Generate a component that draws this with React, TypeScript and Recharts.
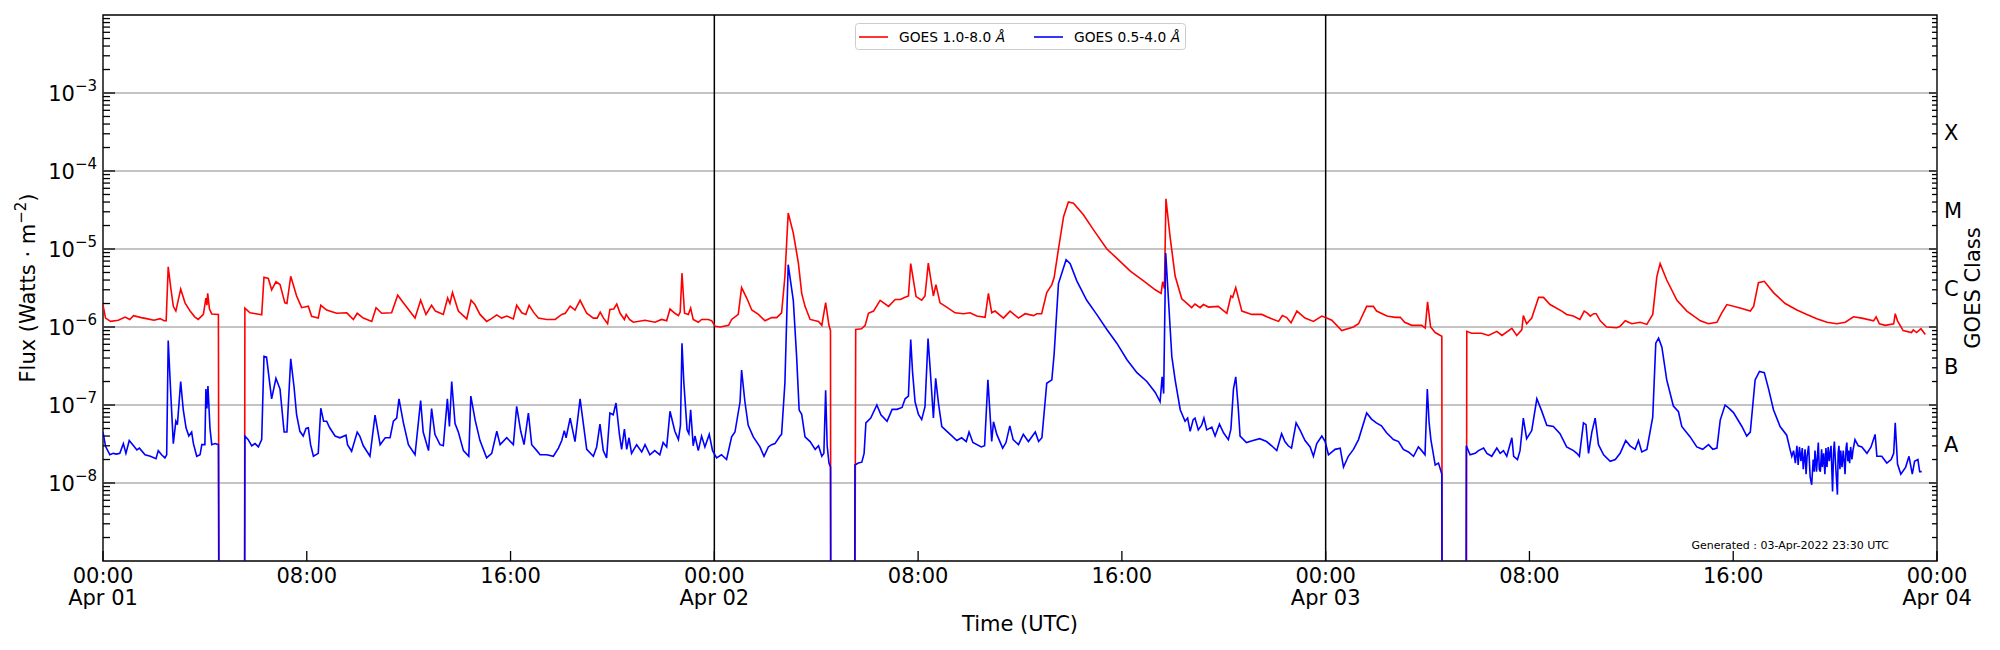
import React from 'react';
import { LineChart, Line, XAxis, YAxis, ReferenceLine, ReferenceArea, Legend } from 'recharts';

// ---------- data (hours since 2022-04-01 00:00 UTC, flux W/m^2) ----------
// 1e-12 marks data gaps (drawn off the bottom of the axis, as in the original)
const longChannel: [number, number][] = [
  [0.0, 1.9e-6], [0.1, 1.3e-6], [0.3, 1.18e-6], [0.6, 1.22e-6], [0.87, 1.34e-6], [1.05, 1.25e-6],
  [1.2, 1.4e-6], [1.5, 1.32e-6], [1.71, 1.28e-6], [2.0, 1.22e-6], [2.24, 1.28e-6], [2.4, 1.2e-6],
  [2.48, 1.2e-6], [2.56, 5.9e-6], [2.66, 3.2e-6], [2.76, 1.84e-6], [2.86, 1.6e-6], [3.05, 3.07e-6],
  [3.22, 2.04e-6], [3.42, 1.6e-6], [3.6, 1.35e-6], [3.74, 1.25e-6], [3.94, 1.45e-6], [4.04, 2.35e-6],
  [4.08, 1.9e-6], [4.11, 2.7e-6], [4.18, 1.7e-6], [4.27, 1.47e-6], [4.53, 1.45e-6], [4.57, 1e-12],
  [5.55, 1e-12], [5.57, 1.75e-6], [5.77, 1.52e-6], [6.0, 1.48e-6], [6.23, 1.43e-6], [6.32, 4.34e-6],
  [6.49, 4.2e-6], [6.62, 3.0e-6], [6.79, 3.8e-6], [6.95, 3.5e-6], [7.14, 2.04e-6], [7.22, 2.0e-6],
  [7.37, 4.46e-6], [7.6, 2.5e-6], [7.8, 1.77e-6], [8.06, 1.85e-6], [8.19, 1.37e-6], [8.45, 1.3e-6],
  [8.55, 1.9e-6], [8.78, 1.65e-6], [9.17, 1.5e-6], [9.57, 1.52e-6], [9.83, 1.25e-6], [9.98, 1.5e-6],
  [10.22, 1.3e-6], [10.55, 1.18e-6], [10.72, 1.77e-6], [10.94, 1.5e-6], [11.33, 1.52e-6], [11.57, 2.55e-6],
  [11.79, 2.04e-6], [12.25, 1.3e-6], [12.47, 2.2e-6], [12.68, 1.45e-6], [12.9, 1.9e-6], [13.05, 1.6e-6],
  [13.36, 1.45e-6], [13.53, 2.35e-6], [13.62, 2.0e-6], [13.72, 2.76e-6], [13.95, 1.6e-6], [14.28, 1.27e-6],
  [14.45, 2.2e-6], [14.6, 1.94e-6], [14.8, 1.45e-6], [15.06, 1.18e-6], [15.25, 1.28e-6], [15.46, 1.43e-6],
  [15.65, 1.3e-6], [15.85, 1.38e-6], [16.11, 1.27e-6], [16.24, 1.9e-6], [16.44, 1.52e-6], [16.6, 1.45e-6],
  [16.73, 1.9e-6], [16.9, 1.55e-6], [17.09, 1.3e-6], [17.42, 1.25e-6], [17.75, 1.25e-6], [18.01, 1.45e-6],
  [18.15, 1.5e-6], [18.34, 1.85e-6], [18.53, 1.65e-6], [18.73, 2.2e-6], [18.99, 1.5e-6], [19.25, 1.3e-6],
  [19.4, 1.3e-6], [19.52, 1.55e-6], [19.65, 1.3e-6], [19.81, 1.1e-6], [19.9, 1.68e-6], [20.05, 1.7e-6],
  [20.17, 1.97e-6], [20.3, 1.5e-6], [20.47, 1.25e-6], [20.54, 1.45e-6], [20.67, 1.25e-6], [20.82, 1.15e-6],
  [21.28, 1.22e-6], [21.67, 1.15e-6], [21.93, 1.25e-6], [22.13, 1.2e-6], [22.26, 1.7e-6], [22.45, 1.5e-6],
  [22.59, 1.4e-6], [22.66, 1.55e-6], [22.73, 4.9e-6], [22.83, 1.5e-6], [22.98, 1.45e-6], [23.07, 1.75e-6],
  [23.17, 1.25e-6], [23.37, 1.15e-6], [23.5, 1.25e-6], [23.77, 1.25e-6], [23.9, 1.2e-6], [24.03, 1.02e-6],
  [24.23, 1.0e-6], [24.56, 1.05e-6], [24.68, 1.25e-6], [24.94, 1.45e-6], [25.07, 3.2e-6], [25.27, 2.35e-6],
  [25.47, 1.65e-6], [25.73, 1.45e-6], [25.99, 1.2e-6], [26.25, 1.32e-6], [26.45, 1.32e-6], [26.64, 1.52e-6],
  [26.77, 4.4e-6], [26.9, 2.9e-5], [27.1, 1.6e-5], [27.3, 6.6e-6], [27.43, 2.7e-6], [27.56, 1.84e-6],
  [27.76, 1.25e-6], [28.09, 1.18e-6], [28.22, 1.05e-6], [28.37, 2.05e-6], [28.5, 1.05e-6], [28.56, 9e-7],
  [28.58, 1e-12], [29.5, 1e-12], [29.55, 0.93e-6], [29.78, 0.95e-6], [29.92, 1.05e-6], [30.05, 1.5e-6],
  [30.25, 1.6e-6], [30.51, 2.2e-6], [30.84, 1.84e-6], [31.1, 2.25e-6], [31.3, 2.25e-6], [31.49, 2.4e-6],
  [31.62, 2.5e-6], [31.71, 6.5e-6], [31.82, 3.9e-6], [31.92, 2.45e-6], [32.14, 2.2e-6], [32.27, 2.5e-6],
  [32.4, 6.6e-6], [32.53, 3.5e-6], [32.6, 2.5e-6], [32.7, 3.5e-6], [32.86, 2.04e-6], [33.12, 1.8e-6],
  [33.45, 1.52e-6], [33.78, 1.48e-6], [34.04, 1.52e-6], [34.3, 1.38e-6], [34.63, 1.33e-6], [34.76, 2.7e-6],
  [34.89, 1.52e-6], [35.02, 1.6e-6], [35.35, 1.3e-6], [35.61, 1.6e-6], [35.94, 1.3e-6], [36.2, 1.48e-6],
  [36.53, 1.4e-6], [36.66, 1.48e-6], [36.85, 1.48e-6], [37.05, 2.76e-6], [37.25, 3.5e-6], [37.34, 4.3e-6],
  [37.51, 1.0e-5], [37.71, 2.6e-5], [37.9, 4.0e-5], [38.1, 3.85e-5], [38.49, 2.75e-5], [38.88, 1.77e-5],
  [39.41, 1.0e-5], [39.94, 6.9e-6], [40.33, 5.2e-6], [40.85, 3.9e-6], [41.31, 3.0e-6], [41.54, 2.7e-6],
  [41.6, 3.8e-6], [41.67, 3.1e-6], [41.73, 4.4e-5], [41.89, 1.45e-5], [42.09, 4.5e-6], [42.35, 2.3e-6],
  [42.61, 1.94e-6], [42.74, 1.77e-6], [42.87, 1.97e-6], [43.07, 1.77e-6], [43.2, 1.94e-6], [43.4, 1.8e-6],
  [43.78, 1.84e-6], [44.12, 1.5e-6], [44.28, 2.5e-6], [44.35, 2.4e-6], [44.47, 3.2e-6], [44.71, 1.6e-6],
  [45.1, 1.45e-6], [45.49, 1.45e-6], [45.69, 1.35e-6], [46.15, 1.18e-6], [46.3, 1.4e-6], [46.47, 1.32e-6],
  [46.64, 1.13e-6], [46.87, 1.6e-6], [47.19, 1.3e-6], [47.52, 1.18e-6], [47.85, 1.38e-6], [48.04, 1.3e-6],
  [48.24, 1.22e-6], [48.63, 0.9e-6], [49.09, 1.0e-6], [49.29, 1.1e-6], [49.61, 1.84e-6], [49.87, 1.84e-6],
  [50.0, 1.6e-6], [50.4, 1.38e-6], [50.73, 1.33e-6], [50.93, 1.33e-6], [51.1, 1.15e-6], [51.38, 1.05e-6],
  [51.77, 1.05e-6], [51.91, 0.97e-6], [52.0, 2.1e-6], [52.12, 1.0e-6], [52.3, 0.85e-6], [52.56, 0.76e-6],
  [52.58, 1e-12], [53.52, 1e-12], [53.54, 0.88e-6], [53.73, 0.83e-6], [54.12, 0.83e-6], [54.39, 0.78e-6],
  [54.72, 0.88e-6], [54.92, 0.78e-6], [55.31, 0.96e-6], [55.5, 0.78e-6], [55.7, 0.92e-6], [55.76, 1.4e-6],
  [55.89, 1.1e-6], [56.09, 1.3e-6], [56.36, 2.4e-6], [56.55, 2.4e-6], [56.81, 1.94e-6], [57.27, 1.6e-6],
  [57.46, 1.45e-6], [57.72, 1.38e-6], [57.98, 1.25e-6], [58.15, 1.6e-6], [58.26, 1.52e-6], [58.39, 1.38e-6],
  [58.52, 1.48e-6], [58.62, 1.48e-6], [58.78, 1.2e-6], [59.03, 1.0e-6], [59.43, 0.98e-6], [59.56, 1.02e-6],
  [59.76, 1.2e-6], [60.02, 1.1e-6], [60.35, 1.15e-6], [60.61, 1.08e-6], [60.84, 1.45e-6], [61.0, 4.4e-6],
  [61.13, 6.5e-6], [61.39, 4.0e-6], [61.79, 2.2e-6], [62.18, 1.6e-6], [62.71, 1.2e-6], [63.03, 1.1e-6],
  [63.36, 1.15e-6], [63.55, 1.52e-6], [63.75, 1.94e-6], [64.27, 1.75e-6], [64.67, 1.6e-6], [64.8, 1.84e-6],
  [64.99, 3.7e-6], [65.22, 3.85e-6], [65.58, 2.76e-6], [66.04, 2.0e-6], [66.5, 1.65e-6], [66.89, 1.45e-6],
  [67.28, 1.28e-6], [67.68, 1.15e-6], [68.07, 1.1e-6], [68.4, 1.15e-6], [68.72, 1.35e-6], [69.05, 1.3e-6],
  [69.51, 1.2e-6], [69.61, 1.35e-6], [69.74, 1.1e-6], [69.97, 1.05e-6], [70.3, 1.1e-6], [70.36, 1.48e-6],
  [70.45, 1.2e-6], [70.67, 0.9e-6], [71.0, 0.85e-6], [71.07, 0.92e-6], [71.2, 0.85e-6], [71.37, 0.95e-6],
  [71.54, 0.8e-6],
];

const shortChannel: [number, number][] = [
  [0.0, 4.5e-8], [0.1, 2.95e-8], [0.27, 2.3e-8], [0.4, 2.4e-8], [0.53, 2.35e-8], [0.66, 2.4e-8],
  [0.8, 3.2e-8], [0.9, 2.4e-8], [1.03, 3.5e-8], [1.2, 3.0e-8], [1.33, 2.65e-8], [1.43, 2.8e-8],
  [1.65, 2.3e-8], [1.86, 2.2e-8], [2.08, 2.05e-8], [2.17, 2.6e-8], [2.3, 2.3e-8], [2.43, 2.1e-8],
  [2.5, 2.3e-8], [2.56, 6.7e-7], [2.66, 1.4e-7], [2.76, 3.2e-8], [2.86, 6.2e-8], [2.92, 5.6e-8],
  [3.05, 2.0e-7], [3.15, 8.7e-8], [3.26, 5.1e-8], [3.37, 4.0e-8], [3.48, 4.5e-8], [3.55, 3.2e-8],
  [3.68, 2.2e-8], [3.81, 2.3e-8], [3.88, 3.1e-8], [4.0, 3.1e-8], [4.04, 1.6e-7], [4.08, 9e-8],
  [4.12, 1.75e-7], [4.2, 5e-8], [4.27, 3.1e-8], [4.4, 3.2e-8], [4.53, 3.1e-8], [4.57, 1e-12],
  [5.55, 1e-12], [5.57, 4.0e-8], [5.7, 3.6e-8], [5.84, 3.0e-8], [5.97, 3.2e-8], [6.1, 2.9e-8],
  [6.23, 3.6e-8], [6.32, 4.2e-7], [6.42, 4.1e-7], [6.62, 1.2e-7], [6.79, 2.2e-7], [6.95, 1.6e-7],
  [7.11, 4.5e-8], [7.22, 4.5e-8], [7.37, 3.9e-7], [7.5, 1.7e-7], [7.6, 7.5e-8], [7.73, 4.6e-8],
  [7.86, 4.0e-8], [7.97, 5e-8], [8.06, 5.1e-8], [8.15, 3.1e-8], [8.26, 2.2e-8], [8.45, 2.4e-8],
  [8.55, 9.1e-8], [8.66, 6.2e-8], [8.78, 6.2e-8], [8.9, 5.1e-8], [9.11, 4.0e-8], [9.3, 3.8e-8],
  [9.54, 4.1e-8], [9.6, 3.1e-8], [9.76, 2.55e-8], [9.98, 4.5e-8], [10.08, 4.0e-8], [10.22, 3.0e-8],
  [10.48, 2.2e-8], [10.68, 7.4e-8], [10.88, 3.1e-8], [11.08, 3.8e-8], [11.27, 3.8e-8], [11.4, 6.2e-8],
  [11.53, 6.8e-8], [11.62, 1.2e-7], [11.79, 6.0e-8], [11.99, 3.1e-8], [12.25, 2.3e-8], [12.47, 1.14e-7],
  [12.57, 4.5e-8], [12.78, 2.6e-8], [12.9, 9e-8], [13.03, 4.2e-8], [13.23, 3.1e-8], [13.36, 3.0e-8],
  [13.52, 1.2e-7], [13.6, 5.3e-8], [13.69, 2.0e-7], [13.82, 5.8e-8], [13.95, 4.5e-8], [14.15, 2.6e-8],
  [14.36, 2.2e-8], [14.44, 1.3e-7], [14.61, 6.4e-8], [14.8, 3.5e-8], [15.06, 2.1e-8], [15.26, 2.4e-8],
  [15.46, 4.6e-8], [15.59, 3.1e-8], [15.85, 3.8e-8], [16.11, 3.1e-8], [16.24, 9.6e-8], [16.4, 4.6e-8],
  [16.53, 3.1e-8], [16.7, 7.9e-8], [16.83, 3.1e-8], [17.03, 2.6e-8], [17.16, 2.3e-8], [17.42, 2.3e-8],
  [17.68, 2.2e-8], [17.88, 2.8e-8], [18.01, 3.5e-8], [18.11, 4.7e-8], [18.18, 3.8e-8], [18.34, 6.8e-8],
  [18.53, 3.4e-8], [18.73, 1.2e-7], [18.99, 2.7e-8], [19.25, 2.2e-8], [19.38, 2.9e-8], [19.51, 5.7e-8],
  [19.64, 2.6e-8], [19.77, 2.1e-8], [19.9, 7.9e-8], [20.03, 7.5e-8], [20.14, 1.06e-7], [20.27, 4.3e-8],
  [20.36, 2.7e-8], [20.47, 4.9e-8], [20.56, 2.7e-8], [20.65, 3.8e-8], [20.75, 2.4e-8], [20.95, 3.1e-8],
  [21.15, 2.5e-8], [21.28, 3.1e-8], [21.47, 2.3e-8], [21.66, 2.6e-8], [21.86, 2.3e-8], [21.99, 3.3e-8],
  [22.13, 2.9e-8], [22.26, 8.3e-8], [22.45, 4.6e-8], [22.59, 3.6e-8], [22.67, 5.5e-8], [22.73, 6.2e-7],
  [22.8, 2.0e-7], [22.93, 4.8e-8], [23.0, 4.3e-8], [23.07, 8.7e-8], [23.17, 3.0e-8], [23.24, 4.0e-8],
  [23.37, 2.6e-8], [23.5, 4.0e-8], [23.63, 2.9e-8], [23.8, 4.2e-8], [23.93, 2.6e-8], [24.09, 2.1e-8],
  [24.28, 2.3e-8], [24.48, 2.0e-8], [24.68, 3.9e-8], [24.81, 4.5e-8], [25.01, 1.1e-7], [25.07, 2.8e-7],
  [25.2, 1.1e-7], [25.33, 5.5e-8], [25.53, 3.9e-8], [25.79, 2.9e-8], [25.95, 2.2e-8], [26.12, 2.9e-8],
  [26.25, 3.1e-8], [26.38, 3.2e-8], [26.58, 4.0e-8], [26.64, 4.2e-8], [26.77, 1.9e-7], [26.9, 6.3e-6],
  [27.1, 2.2e-6], [27.23, 4.2e-7], [27.33, 8.6e-8], [27.43, 7.6e-8], [27.56, 3.9e-8], [27.76, 3.4e-8],
  [27.96, 2.7e-8], [28.09, 3.0e-8], [28.22, 2.2e-8], [28.3, 2.4e-8], [28.37, 1.55e-7], [28.43, 3.0e-8],
  [28.5, 1.8e-8], [28.56, 1.6e-8], [28.58, 1e-12], [29.5, 1e-12], [29.52, 1.7e-8], [29.65, 1.8e-8],
  [29.79, 1.85e-8], [29.88, 2.4e-8], [29.95, 5.9e-8], [30.14, 6.8e-8], [30.38, 1.0e-7], [30.54, 7.5e-8],
  [30.78, 6.2e-8], [30.98, 8.8e-8], [31.17, 8.8e-8], [31.37, 9.3e-8], [31.49, 1.2e-7], [31.62, 1.3e-7],
  [31.71, 6.9e-7], [31.78, 2.7e-7], [31.88, 1.1e-7], [32.01, 7.6e-8], [32.14, 6.5e-8], [32.27, 9.5e-8],
  [32.39, 7.1e-7], [32.47, 3e-7], [32.6, 6.8e-8], [32.69, 2.2e-7], [32.8, 1.05e-7], [32.93, 5.3e-8],
  [33.26, 4.2e-8], [33.52, 3.5e-8], [33.71, 3.8e-8], [33.89, 3.4e-8], [34.0, 4.5e-8], [34.15, 3.3e-8],
  [34.48, 2.9e-8], [34.61, 3.0e-8], [34.74, 2.1e-7], [34.81, 9e-8], [34.89, 3.4e-8], [34.96, 6.1e-8],
  [35.09, 4.2e-8], [35.32, 2.8e-8], [35.45, 3.3e-8], [35.6, 5.4e-8], [35.73, 3.6e-8], [35.94, 3.1e-8],
  [36.13, 4.2e-8], [36.33, 3.4e-8], [36.6, 4.5e-8], [36.73, 3.4e-8], [36.86, 3.8e-8], [37.05, 1.9e-7],
  [37.25, 2.1e-7], [37.34, 4.5e-7], [37.51, 3.6e-6], [37.81, 7.3e-6], [37.97, 6.5e-6], [38.23, 3.9e-6],
  [38.62, 2.2e-6], [39.01, 1.45e-6], [39.41, 9.3e-7], [39.8, 6.2e-7], [40.2, 3.8e-7], [40.59, 2.6e-7],
  [40.98, 2.0e-7], [41.31, 1.45e-7], [41.5, 1.1e-7], [41.58, 2.3e-7], [41.64, 1.4e-7], [41.72, 8.9e-6],
  [41.83, 2.2e-6], [41.96, 4.2e-7], [42.09, 2.1e-7], [42.29, 8.7e-8], [42.48, 6.2e-8], [42.58, 6.8e-8],
  [42.68, 4.6e-8], [42.8, 6.5e-8], [42.87, 6.8e-8], [43.0, 4.8e-8], [43.13, 5.5e-8], [43.22, 6.8e-8],
  [43.33, 4.8e-8], [43.53, 5.2e-8], [43.66, 4.0e-8], [43.83, 5.7e-8], [43.99, 4.4e-8], [44.18, 3.6e-8],
  [44.28, 4.9e-8], [44.38, 1.6e-7], [44.47, 2.3e-7], [44.56, 1.0e-7], [44.64, 4.0e-8], [44.89, 3.3e-8],
  [45.15, 3.5e-8], [45.41, 3.7e-8], [45.68, 3.4e-8], [45.88, 3.0e-8], [46.08, 2.6e-8], [46.27, 4.3e-8],
  [46.4, 3.4e-8], [46.53, 3.0e-8], [46.66, 2.8e-8], [46.84, 5.9e-8], [46.99, 4.8e-8], [47.19, 3.5e-8],
  [47.39, 2.9e-8], [47.52, 2.2e-8], [47.65, 3.2e-8], [47.85, 4.0e-8], [47.98, 3.4e-8], [48.11, 2.3e-8],
  [48.37, 2.7e-8], [48.57, 2.8e-8], [48.7, 1.6e-8], [48.89, 2.2e-8], [49.09, 2.7e-8], [49.29, 3.6e-8],
  [49.61, 7.9e-8], [49.8, 6.6e-8], [49.99, 5.9e-8], [50.19, 5.4e-8], [50.39, 4.4e-8], [50.66, 3.6e-8],
  [50.86, 3.4e-8], [51.05, 2.7e-8], [51.25, 2.5e-8], [51.45, 2.2e-8], [51.64, 2.9e-8], [51.77, 2.6e-8],
  [51.9, 2.3e-8], [51.99, 1.6e-7], [52.06, 6e-8], [52.13, 3.6e-8], [52.3, 1.7e-8], [52.43, 1.8e-8],
  [52.56, 1.3e-8], [52.58, 1e-12], [53.5, 1e-12], [53.52, 3.0e-8], [53.67, 2.3e-8], [53.87, 2.4e-8],
  [54.0, 2.6e-8], [54.2, 2.8e-8], [54.33, 2.4e-8], [54.52, 2.2e-8], [54.72, 2.8e-8], [54.85, 2.4e-8],
  [54.98, 2.6e-8], [55.11, 2.2e-8], [55.31, 3.8e-8], [55.38, 2.2e-8], [55.53, 2.0e-8], [55.63, 2.6e-8],
  [55.76, 6.8e-8], [55.89, 3.7e-8], [56.09, 4.7e-8], [56.29, 1.2e-7], [56.48, 8.4e-8], [56.68, 5.5e-8],
  [56.94, 5.3e-8], [57.2, 4.3e-8], [57.46, 2.9e-8], [57.73, 2.6e-8], [57.86, 2.4e-8], [57.96, 2.2e-8],
  [58.12, 5.9e-8], [58.22, 5.6e-8], [58.32, 2.4e-8], [58.45, 4.5e-8], [58.58, 6.8e-8], [58.71, 3.1e-8],
  [58.91, 2.3e-8], [59.17, 1.9e-8], [59.37, 2.0e-8], [59.56, 2.4e-8], [59.78, 3.5e-8], [59.95, 3.0e-8],
  [60.15, 2.7e-8], [60.28, 3.5e-8], [60.41, 2.5e-8], [60.61, 2.7e-8], [60.84, 7e-8], [60.96, 6.2e-7],
  [61.07, 7.2e-7], [61.2, 5.5e-7], [61.39, 2.1e-7], [61.65, 9.7e-8], [61.85, 8.2e-8], [61.98, 5.3e-8],
  [62.31, 3.9e-8], [62.57, 2.9e-8], [62.8, 2.7e-8], [63.03, 3.1e-8], [63.2, 2.7e-8], [63.36, 2.8e-8],
  [63.49, 6.4e-8], [63.68, 1.0e-7], [63.85, 9e-8], [64.01, 8e-8], [64.34, 5.3e-8], [64.53, 4.0e-8],
  [64.67, 4.5e-8], [64.86, 2.1e-7], [65.03, 2.7e-7], [65.22, 2.6e-7], [65.39, 1.6e-7], [65.58, 8.7e-8],
  [65.84, 5.3e-8], [66.1, 4.1e-8], [66.23, 2.7e-8], [66.3, 2.2e-8], [66.37, 2.6e-8], [66.44, 1.8e-8],
  [66.5, 3.0e-8], [66.55, 1.7e-8], [66.6, 2.9e-8], [66.66, 1.9e-8], [66.71, 2.8e-8], [66.75, 1.5e-8],
  [66.82, 2.7e-8], [66.86, 1.3e-8], [66.9, 2.2e-8], [66.96, 3.0e-8], [67.02, 1.2e-8], [67.08, 9.5e-9],
  [67.14, 2.0e-8], [67.18, 1.4e-8], [67.21, 2.6e-8], [67.27, 1.4e-8], [67.34, 3.3e-8], [67.38, 1.5e-8],
  [67.42, 1.4e-8], [67.47, 2.7e-8], [67.5, 1.6e-8], [67.55, 2.4e-8], [67.6, 1.3e-8], [67.64, 2.8e-8],
  [67.68, 1.6e-8], [67.73, 2.9e-8], [67.77, 1.9e-8], [67.84, 3.0e-8], [67.9, 7.8e-9], [67.94, 2.5e-8],
  [67.97, 3.4e-8], [68.03, 1.5e-8], [68.09, 7.1e-9], [68.12, 2.4e-8], [68.15, 3.0e-8], [68.19, 1.5e-8],
  [68.22, 2.6e-8], [68.27, 1.6e-8], [68.32, 2.6e-8], [68.36, 1.8e-8], [68.39, 1.3e-8], [68.43, 2.8e-8],
  [68.46, 3.3e-8], [68.5, 1.9e-8], [68.53, 2.6e-8], [68.57, 1.8e-8], [68.61, 2.9e-8], [68.66, 2.0e-8],
  [68.7, 2.6e-8], [68.78, 3.6e-8], [68.91, 3.0e-8], [69.05, 2.9e-8], [69.25, 2.4e-8], [69.41, 2.9e-8],
  [69.57, 4.2e-8], [69.64, 2.2e-8], [69.83, 2.2e-8], [70.03, 1.8e-8], [70.2, 2.0e-8], [70.3, 2.4e-8],
  [70.36, 5.9e-8], [70.45, 1.75e-8], [70.58, 1.3e-8], [70.77, 1.6e-8], [70.9, 2.2e-8], [71.03, 1.3e-8],
  [71.12, 1.9e-8], [71.25, 2.0e-8], [71.32, 1.4e-8], [71.4, 1.4e-8],
];

const seriesNames = ['GOES 1.0-8.0 ', 'GOES 0.5-4.0 '];
const seriesColors = ['#ff0000', '#0000ff'];

const timeTicks = [0, 8, 16, 24, 32, 40, 48, 56, 64, 72];
const timeTickLabels = ['00:00', '08:00', '16:00', '00:00', '08:00', '16:00', '00:00', '08:00', '16:00', '00:00'];
const dayTickLabels = ['Apr 01', '', '', 'Apr 02', '', '', 'Apr 03', '', '', 'Apr 04'];
const dayBoundaries = [24, 48];

const labeledExponents = [-8, -7, -6, -5, -4, -3];
const gridExponents = [-8, -7, -6, -5, -4, -3];
const goesClasses = ['A', 'B', 'C', 'M', 'X'];
const goesClassExponents = [-7.5, -6.5, -5.5, -4.5, -3.5];

const generatedNote = 'Generated : 03-Apr-2022 23:30 UTC';

// ---------- layout ----------
const W = 1992;
const H = 642;
const PLOT = { left: 95, right: 1929, top: 7, bottom: 553 };
const FONT = '"DejaVu Sans", Verdana, sans-serif';
const FS = 21;
const FS_SUP = 15;
const Y_DOMAIN: [number, number] = [1e-9, 1e-2];

const toPoints = (arr: [number, number][]) => arr.map(([t, v]) => ({ t, v }));
const longData = toPoints(longChannel);
const shortData = toPoints(shortChannel);

// log-axis tick positions (1..9 x 10^e) strictly inside the domain
const leftTicks: number[] = [];
for (let e = -9; e <= -3; e++) {
  for (let m = 1; m <= 9; m++) {
    if (e === -9 && m === 1) continue;
    leftTicks.push(Number((m * Math.pow(10, e)).toPrecision(3)));
  }
}
const classTicks = goesClassExponents.map((e) => Math.pow(10, e));
const rightTicks = [...leftTicks, ...classTicks].sort((a, b) => a - b);

const isMajor = (v: number) => {
  const e = Math.log10(v);
  return Math.abs(e - Math.round(e)) < 1e-6;
};

const LeftTick = (props: any) => {
  const { y, payload } = props;
  const v = payload.value as number;
  const major = isMajor(v);
  const exp = Math.round(Math.log10(v));
  return (
    <g>
      <line x1={PLOT.left} x2={PLOT.left + (major ? 12 : 7)} y1={y} y2={y} stroke="#000" strokeWidth={1.3} />
      {major && labeledExponents.includes(exp) && (
        <text x={PLOT.left - 6} y={y + 7.5} textAnchor="end" fontSize={FS} fill="#000" fontFamily={FONT}>
          <tspan>10</tspan>
          <tspan dy={-9.5} fontSize={FS_SUP}>{'\u2212' + Math.abs(exp)}</tspan>
        </text>
      )}
    </g>
  );
};

const RightTick = (props: any) => {
  const { y, payload } = props;
  const v = payload.value as number;
  const e = Math.log10(v);
  const ci = goesClassExponents.findIndex((c) => Math.abs(c - e) < 1e-6);
  if (ci >= 0) {
    return (
      <text x={PLOT.right + 7} y={y + 7.5} textAnchor="start" fontSize={FS} fill="#000" fontFamily={FONT}>
        {goesClasses[ci]}
      </text>
    );
  }
  const major = isMajor(v);
  return <line x1={PLOT.right} x2={PLOT.right - (major ? 8 : 5)} y1={y} y2={y} stroke="#000" strokeWidth={1.3} />;
};

const TimeTick = (props: any) => {
  const { x, payload } = props;
  const i = timeTicks.indexOf(payload.value);
  return (
    <g>
      <line x1={x} x2={x} y1={PLOT.bottom} y2={PLOT.bottom - 10} stroke="#000" strokeWidth={1.3} />
      <text x={x} y={575} textAnchor="middle" fontSize={FS} fill="#000" fontFamily={FONT}>
        {timeTickLabels[i]}
      </text>
      {dayTickLabels[i] && (
        <text x={x} y={597} textAnchor="middle" fontSize={FS} fill="#000" fontFamily={FONT}>
          {dayTickLabels[i]}
        </text>
      )}
    </g>
  );
};

const TimeLabel = () => (
  <text x={(PLOT.left + PLOT.right) / 2} y={623} textAnchor="middle" fontSize={FS} fill="#000" fontFamily={FONT}>
    Time (UTC)
  </text>
);

const FluxLabel = () => (
  <g transform={`translate(27, ${(PLOT.top + PLOT.bottom) / 2}) rotate(-90)`}>
    <text x={0} y={0} textAnchor="middle" fontSize={FS} fill="#000" fontFamily={FONT}>
      <tspan>Flux (Watts · m</tspan>
      <tspan dy={-9.5} fontSize={FS_SUP}>{'\u22122'}</tspan>
      <tspan dy={9.5}>)</tspan>
    </text>
  </g>
);

const ClassLabel = () => (
  <g transform={`translate(1972, ${(PLOT.top + PLOT.bottom) / 2}) rotate(-90)`}>
    <text x={0} y={0} textAnchor="middle" fontSize={FS} fill="#000" fontFamily={FONT}>
      GOES Class
    </text>
  </g>
);

const NoteLabel = () => (
  <text x={PLOT.right - 48} y={PLOT.bottom - 12} textAnchor="end" fontSize={11} fill="#000" fontFamily={FONT}>
    {generatedNote}
  </text>
);

const LegendBox = () => (
  <svg width={331} height={27} style={{ display: 'block', overflow: 'visible' }}>
    <rect x={0.5} y={0.5} width={330} height={26} rx={3} ry={3} fill="#ffffff" fillOpacity={0.8} stroke="#cccccc" strokeWidth={1} />
    {seriesNames.map((name, i) => {
      const x0 = 4 + i * 175;
      return (
        <g key={name}>
          <line x1={x0} x2={x0 + 29} y1={14} y2={14} stroke={seriesColors[i]} strokeWidth={1.6} />
          <text x={x0 + 40} y={19} fontSize={13.8} fill="#000" fontFamily={FONT}>
            {name}
            <tspan fontStyle="italic">Å</tspan>
          </text>
        </g>
      );
    })}
  </svg>
);

export default function App() {
  return (
    <div style={{ width: W, height: H }}>
      <LineChart width={W} height={H} margin={{ top: PLOT.top, right: 0, left: 0, bottom: 0 }}>
        <XAxis
          xAxisId="t"
          dataKey="t"
          type="number"
          domain={[0, 72]}
          ticks={timeTicks}
          interval={0}
          allowDataOverflow
          height={H - PLOT.bottom}
          axisLine={false}
          tickLine={false}
          tick={TimeTick}
          label={TimeLabel}
        />
        <YAxis
          yAxisId="left"
          orientation="left"
          type="number"
          scale="log"
          domain={Y_DOMAIN}
          allowDataOverflow
          ticks={leftTicks}
          interval={0}
          width={PLOT.left}
          axisLine={false}
          tickLine={false}
          tick={LeftTick}
          label={FluxLabel}
        />
        <YAxis
          yAxisId="right"
          orientation="right"
          type="number"
          scale="log"
          domain={Y_DOMAIN}
          allowDataOverflow
          ticks={rightTicks}
          interval={0}
          width={W - PLOT.right}
          axisLine={false}
          tickLine={false}
          tick={RightTick}
          label={ClassLabel}
        />
        {gridExponents.map((e) => (
          <ReferenceLine key={e} xAxisId="t" yAxisId="left" y={Math.pow(10, e)} stroke="#b0b0b0" strokeWidth={1.3} />
        ))}
        {dayBoundaries.map((d) => (
          <ReferenceLine key={d} xAxisId="t" yAxisId="left" x={d} stroke="#000" strokeWidth={1.5} />
        ))}
        <Line
          xAxisId="t"
          yAxisId="left"
          data={longData}
          dataKey="v"
          name={seriesNames[0]}
          type="linear"
          stroke={seriesColors[0]}
          strokeWidth={1.6}
          dot={false}
          activeDot={false}
          isAnimationActive={false}
        />
        <Line
          xAxisId="t"
          yAxisId="left"
          data={shortData}
          dataKey="v"
          name={seriesNames[1]}
          type="linear"
          stroke={seriesColors[1]}
          strokeWidth={1.6}
          dot={false}
          activeDot={false}
          isAnimationActive={false}
        />
        <ReferenceArea
          xAxisId="t"
          yAxisId="left"
          x1={0}
          x2={72}
          y1={Y_DOMAIN[0]}
          y2={Y_DOMAIN[1]}
          fill="none"
          fillOpacity={0}
          stroke="#000"
          strokeWidth={1.4}
          ifOverflow="visible"
          label={NoteLabel}
        />
        <Legend
          content={LegendBox}
          layout="horizontal"
          verticalAlign="middle"
          align="center"
          wrapperStyle={{ position: 'absolute', top: 15, left: 847, width: 331, height: 27 }}
        />
      </LineChart>
    </div>
  );
}
